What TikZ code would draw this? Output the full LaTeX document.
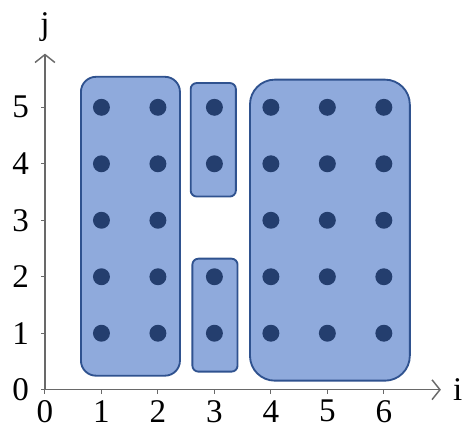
\documentclass[tikz,border=0pt]{standalone}
\usepackage{fontspec}
\setmainfont{Liberation Serif}
\usetikzlibrary{arrows.meta,positioning}
\definecolor{blockfill}{RGB}{143,170,220}
\definecolor{blockline}{RGB}{47,82,143}
\definecolor{pointfill}{RGB}{36,62,110}
\definecolor{axisgray}{RGB}{105,105,105}

\begin{document}
\begin{tikzpicture}[x=1.5cm, y=1.5cm,
  block/.style={fill=blockfill, draw=blockline, line width=1.4pt},
  point/.style={circle, fill=pointfill, inner sep=0pt, minimum size=0.45cm},
  axis/.style={draw=axisgray, line width=1.1pt},
  lbl/.style={font=\fontsize{25}{28}\selectfont}]
  \useasboundingbox (-0.796,-0.832) rectangle (7.49,6.90);

  % blocks
  \draw[block, rounded corners=0.4cm] (0.637,0.248) rectangle (2.39,5.54);
  \draw[block, rounded corners=0.16cm] (2.58,3.42) rectangle (3.38,5.43);
  \draw[block, rounded corners=0.16cm] (2.61,0.32) rectangle (3.41,2.32);
  \draw[block, rounded corners=0.66cm] (3.63,0.16) rectangle (6.46,5.49);

  % points
  \foreach \i in {1,2,4,5,6}
    \foreach \j in {1,...,5}
      \node[point] (p\i\j) at (\i,\j) {};
  \foreach \j in {1,2,4,5}
    \node[point] (p3\j) at (3,\j) {};

  % axes
  \coordinate (orig) at (0,0);
  \coordinate (xend) at (7.01,0);
  \coordinate (yend) at (0,5.95);
  \draw[axis, -{Straight Barb[length=6pt, width=15pt]}] (orig) -- (xend);
  \draw[axis, -{Straight Barb[length=6pt, width=15pt]}] (orig) -- (yend);
  \node[lbl, right=0.2cm of xend] (ilabel) {i};
  \node[lbl, above=0.2cm of yend] (jlabel) {j};

  \foreach \k in {0,...,6} {
    \coordinate (tx\k) at (\k,-0.07);
    \draw[axis, line width=0.8pt] (\k,0) -- (tx\k);
    \node[lbl, below=0.05cm of tx\k] (xl\k) {\k};
  }
  \foreach \k in {0,...,5} {
    \coordinate (ty\k) at (-0.07,\k);
    \draw[axis, line width=0.8pt] (0,\k) -- (ty\k);
    \node[lbl, left=0.2cm of ty\k] (yl\k) {\k};
  }
\end{tikzpicture}
\end{document}
